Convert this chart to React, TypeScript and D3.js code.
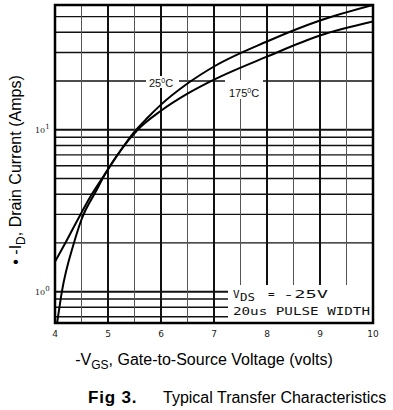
import React from "react";
import * as d3 from "d3";

// -V_GS (volts) and -I_D (amps)
const vgs25 = [4.0, 4.2, 4.42, 4.68, 4.95, 5.2, 5.47, 5.75, 6.0, 6.5, 7.0, 8.0, 9.0, 10.0];
const id25 = [1.53, 2.01, 2.75, 3.92, 5.36, 7.13, 9.48, 11.9, 14.3, 19.3, 24.6, 35.1, 47.3, 59];

const vgs175 = [4.04, 4.13, 4.36, 4.5, 4.79, 4.95, 5.25, 5.56, 6.0, 6.5, 7.0, 8.0, 9.0, 10.0];
const id175 = [0.64, 1.0, 2.01, 2.79, 4.27, 5.36, 7.55, 10.0, 13.1, 16.7, 20.4, 28.3, 38.2, 46.6];

const xTicks = [4, 5, 6, 7, 8, 9, 10];
const xMinor = [4.5, 5.5, 6.5, 7.5, 8.5, 9.5];
const yMajor = [1, 10];
const yMinor = [0.7, 0.8, 0.9, 2, 3, 4, 5, 6, 7, 8, 9, 20, 30, 40, 50];

const W = 393;
const H = 410;
const left = 55, right = 373, top = 5, bottom = 323;

const App = () => {
  const x = d3.scaleLinear().domain([4, 10]).range([left, right]);
  const y = d3.scaleLog().domain([0.64, 59]).range([bottom, top]);

  const line = d3
    .line<[number, number]>()
    .x((d) => x(d[0]))
    .y((d) => y(d[1]))
    .curve(d3.curveMonotoneX);

  const path25 = line(vgs25.map((v, i) => [v, id25[i]]));
  const path175 = line(vgs175.map((v, i) => [v, id175[i]]));

  const legendX = 228;
  const legendTop = 285;

  return (
    <svg
      width={W}
      height={H}
      style={{ position: "absolute", left: 0, top: 0, background: "#fff" }}
    >
      <defs>
        <clipPath id="plot">
          <rect x={left} y={top} width={right - left} height={bottom - top} />
        </clipPath>
      </defs>

      {/* grid */}
      <g stroke="#111">
        {yMinor.map((v) => (
          <line
            key={"ym" + v}
            x1={left}
            x2={v < 1.5 ? legendX : right}
            y1={y(v)}
            y2={y(v)}
            strokeWidth={1.4}
          />
        ))}
        {yMajor.map((v) => (
          <line
            key={"yM" + v}
            x1={left}
            x2={v < 1.5 ? legendX : right}
            y1={y(v)}
            y2={y(v)}
            strokeWidth={2}
          />
        ))}
        {xMinor.map((v) => (
          <line
            key={"xm" + v}
            x1={x(v)}
            x2={x(v)}
            y1={top}
            y2={x(v) > legendX ? legendTop : bottom}
            strokeWidth={1}
            stroke="#555"
          />
        ))}
        {xTicks.map((v) => (
          <line
            key={"xM" + v}
            x1={x(v)}
            x2={x(v)}
            y1={top}
            y2={x(v) > legendX ? legendTop : bottom}
            strokeWidth={2}
          />
        ))}
      </g>

      {/* label knock-outs */}
      <rect x={146} y={76} width={33} height={12} fill="#fff" />
      <rect x={225} y={80} width={38} height={19} fill="#fff" />

      {/* curves */}
      <g clipPath="url(#plot)" fill="none" stroke="#000" strokeWidth={2}>
        <path d={path25 ?? ""} />
        <path d={path175 ?? ""} />
      </g>

      {/* frame */}
      <rect
        x={left}
        y={top}
        width={right - left}
        height={bottom - top}
        fill="none"
        stroke="#000"
        strokeWidth={2.5}
      />

      {/* curve labels */}
      <text x={149} y={87} fontFamily="Liberation Sans, Arial, sans-serif" fontSize={11} fill="#111">
        25<tspan dy={-4} fontSize={7}>0</tspan>
        <tspan dy={4}>C</tspan>
      </text>
      <text x={229} y={97} fontFamily="Liberation Sans, Arial, sans-serif" fontSize={11} fill="#111">
        175<tspan dy={-4} fontSize={7}>0</tspan>
        <tspan dy={4}>C</tspan>
      </text>

      {/* test conditions */}
      <g fontFamily="DejaVu Sans Mono, monospace" fill="#111" fontSize={11}>
        <text x={233} y={298}>V</text>
        <text x={240} y={301} fontSize={10} textLength={15} lengthAdjust="spacingAndGlyphs">DS</text>
        <text x={268} y={298}>=</text>
        <text x={283} y={298} textLength={45} lengthAdjust="spacingAndGlyphs">-25V</text>
        <text x={233} y={315} textLength={137} lengthAdjust="spacingAndGlyphs">
          20us PULSE WIDTH
        </text>
      </g>

      {/* tick labels */}
      <g fontFamily="DejaVu Sans, sans-serif" fontSize={9} fill="#222" textAnchor="middle">
        {xTicks.map((v) => (
          <text key={"xt" + v} x={x(v)} y={337}>
            {v}
          </text>
        ))}
      </g>
      <g fontFamily="DejaVu Serif, serif" fontSize={8} fill="#222">
        {yMajor.map((v) => (
          <text key={"yt" + v} x={35} y={y(v) + 3}>
            10<tspan dy={-4} fontSize={7}>{Math.round(Math.log10(v))}</tspan>
          </text>
        ))}
      </g>

      {/* axis titles */}
      <text
        x={204}
        y={365}
        textAnchor="middle"
        fontFamily="Liberation Sans, Arial, sans-serif"
        fontSize={16}
        fill="#000"
      >
        -V<tspan dy={4} fontSize={12}>GS</tspan>
        <tspan dy={-4}>, Gate-to-Source Voltage (volts)</tspan>
      </text>
      <text
        transform="translate(21,170) rotate(-90)"
        textAnchor="middle"
        fontFamily="Liberation Sans, Arial, sans-serif"
        fontSize={16}
        fill="#000"
      >
        • -I<tspan dy={4} fontSize={12}>D</tspan>
        <tspan dy={-4}>, Drain Current (Amps)</tspan>
      </text>

      {/* caption */}
      <text x={88} y={403} fontFamily="Liberation Sans, Arial, sans-serif" fontSize={16} fill="#000">
        <tspan fontWeight="bold" fontSize={17} letterSpacing={0.8}>Fig 3.</tspan>
        <tspan x={163}>Typical Transfer Characteristics</tspan>
      </text>
    </svg>
  );
};

export default App;
